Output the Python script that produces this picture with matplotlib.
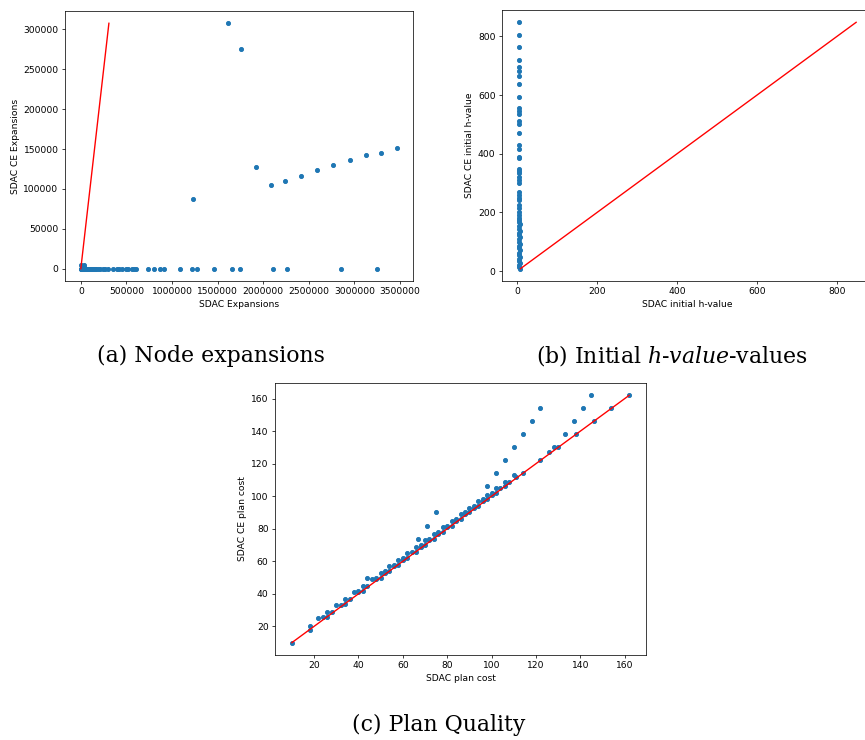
import matplotlib
matplotlib.use("Agg")
import matplotlib.pyplot as plt

plt.rcParams["mathtext.fontset"] = "dejavuserif"

# ---------- (a) Node expansions ----------
exp_sdac = [0, 5000, 10000, 15000, 20000, 25000, 30000, 40000, 50000, 60000, 70000,
            80000, 90000, 100000, 110000, 120000, 130000, 140000, 150000, 170000,
            190000, 210000, 240000, 270000, 300000, 350000, 400000, 420000, 450000,
            500000, 520000, 560000, 580000, 600000,
            739000, 797000, 871000, 914000, 1090000, 1218000, 1277000, 1463000,
            1661000, 1741000, 2110000, 2264000, 2853000, 3248000,
            5000, 20000, 35000, 40000,
            1617000, 1759000, 1232000, 1917000, 2081000, 2242000, 2410000,
            2590000, 2769000, 2952000, 3124000, 3296000, 3468000]
exp_ce = [0] * 48 + [4500, 3500, 4800, 2000] + \
         [307800, 275000, 87400, 127300, 105200, 109400, 116500,
          124400, 129800, 136400, 143100, 145200, 151800]

# ---------- (b) Initial h-values ----------
h_ce = [848, 806, 763, 721, 696, 681, 666, 637, 595, 555, 546, 536, 510, 502,
        469, 429, 417, 388, 386, 349, 340, 333, 322, 310, 300, 271, 260, 250,
        243, 226, 215, 200, 190, 180, 175, 168, 160, 152, 145, 138, 130, 122,
        115, 108, 100, 92, 85, 78, 70, 62, 55, 48, 40, 33, 26, 20, 14, 8]
h_sdac = [5, 5, 5, 5, 5, 5, 5, 5, 5, 5, 5, 5, 5, 5, 5, 5, 5, 5, 5, 5, 5, 5,
          5, 5, 5, 5, 5, 5, 5, 5, 5, 5, 5, 5, 5, 4, 6, 5, 4, 6, 5, 4, 6, 5,
          4, 6, 5, 4, 6, 5, 4, 6, 5, 4, 6, 5, 4, 8]

# ---------- (c) Plan quality ----------
cost_sdac = [10, 18, 18, 22, 24, 26, 26, 28, 30, 32, 34, 34, 36, 38, 40, 40, 42, 42,
             44, 46, 48, 48, 50, 50, 52, 52, 54, 54, 56, 56, 58, 58, 60, 60, 62, 62,
             64, 66, 66, 68, 68, 70, 70, 72, 72, 74, 74, 76, 76, 78, 78, 80, 80,
             82, 82, 84, 84, 86, 86, 88, 88, 90, 90, 92, 92, 94, 94, 96, 96, 98,
             98, 100, 100, 102, 102, 104, 106, 106, 108, 110, 111, 114, 122, 126,
             128, 130, 138, 146, 154, 162,
             145, 141, 122, 137, 118, 114, 133, 110, 106, 102, 98, 75, 71, 67, 44]
cost_ce = [10, 18, 20, 25, 26, 26, 29, 29, 33, 33, 34, 37, 37, 41, 41, 42, 42, 45,
           45, 49, 49, 50, 50, 53, 53, 54, 54, 57, 57, 58, 58, 61, 61, 62, 62, 65,
           66, 66, 69, 69, 70, 70, 73, 73, 74, 74, 77, 77, 78, 78, 81, 81, 82,
           82, 85, 85, 86, 86, 89, 89, 90, 90, 93, 93, 94, 94, 97, 97, 98, 98,
           101, 101, 102, 102, 105, 105, 106, 109, 109, 113, 112, 114, 122, 127,
           130, 130, 138, 146, 154, 162,
           162, 154, 154, 146, 146, 138, 138, 130, 122, 114, 106, 90, 82, 74, 50]

W, H, DPI = 865, 740, 66
fig = plt.figure(figsize=(W / DPI, H / DPI), dpi=DPI)

def box(l, t, r, b):
    return [l / W, 1 - b / H, (r - l) / W, (b - t) / H]

dot = dict(s=20, color="#1f77b4")

ax1 = fig.add_axes(box(65, 11, 413, 281))
ax1.scatter(exp_sdac, exp_ce, **dot)
lim1 = [0, max(exp_ce)]
ax1.plot(lim1, lim1, color="red")
ax1.set_xlabel("SDAC Expansions")
ax1.set_ylabel("SDAC CE Expansions")
ax1.ticklabel_format(style="plain")

ax2 = fig.add_axes(box(502, 10, 873, 281))
ax2.scatter(h_sdac, h_ce, **dot)
lim2 = [min(h_ce), max(h_ce)]
ax2.plot(lim2, lim2, color="red")
ax2.set_xlabel("SDAC initial h-value")
ax2.set_ylabel("SDAC CE initial h-value")
ax2.set_xticks([0, 200, 400, 600, 800])
ax2.set_yticks([0, 200, 400, 600, 800])

ax3 = fig.add_axes(box(275, 383, 646, 655))
ax3.scatter(cost_sdac, cost_ce, **dot)
lim3 = [min(cost_sdac), max(cost_sdac)]
ax3.plot(lim3, lim3, color="red")
ax3.set_xlabel("SDAC plan cost")
ax3.set_ylabel("SDAC CE plan cost")
ax3.set_xticks([20, 40, 60, 80, 100, 120, 140, 160])
ax3.set_yticks([20, 40, 60, 80, 100, 120, 140, 160])

cap = dict(fontsize=24, family="DejaVu Serif", ha="center", va="baseline")
fig.text(211 / W, 1 - 362 / H, "(a) Node expansions", **cap)
fig.text(672 / W, 1 - 362 / H, "(b) Initial $\\it{h}$-$\\it{value}$-values", **cap)
fig.text(439 / W, 1 - 731 / H, "(c) Plan Quality", **cap)

fig.savefig("out.png", dpi=DPI)
